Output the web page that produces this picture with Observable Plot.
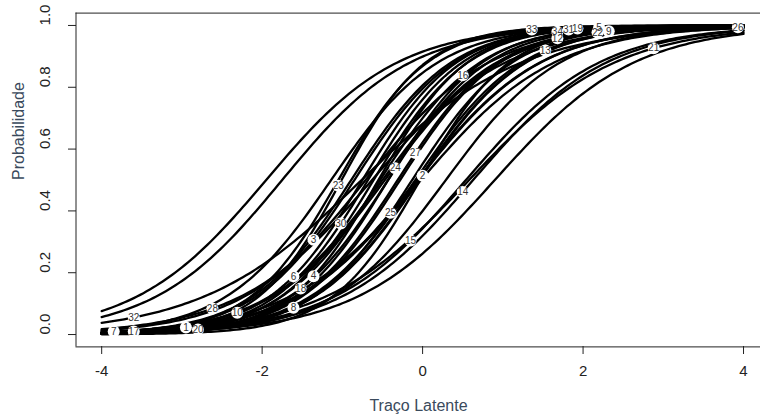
<!DOCTYPE html>
<html>
<head>
<meta charset="utf-8">
<script src="https://cdn.jsdelivr.net/npm/d3@7"></script>
<script src="https://cdn.jsdelivr.net/npm/@observablehq/plot@0.6"></script>
<style>
  body { margin: 0; background: #fff; }
</style>
</head>
<body>
<div id="chart"></div>
<script>
// Item parameters (2PL logistic): discrimination a, difficulty b
const items          = [1, 2, 3, 4, 5, 6, 7, 8, 9, 10, 11, 12, 13, 14, 15, 16, 17, 18, 19, 20, 21, 22, 23, 24, 25, 26, 27, 28, 29, 30, 31, 32, 33, 34];
const discrimination = [1.3, 1.8, 1.6, 1.8, 1.22, 1.7, 1.2, 1.5, 1.3, 1.4, 1.25, 1.6, 1.5, 1.2, 1.2, 1.6, 1.3, 1.6, 1.5, 1.5, 1.1, 1.4, 1.9, 1.7, 1.6, 1.4, 1.6, 1.2, 1.15, 1.7, 1.6, 1.0, 1.8, 1.7];
const difficulty     = [-0.07, -0.03, -0.85, -0.55, -1.95, -0.75, -0.02, -0.04, -0.71, -0.47, -1.75, -0.28, -0.09, 0.63, 0.54, -0.53, -0.06, -0.43, -1.14, -0.05, 0.58, -0.5, -1.01, -0.43, -0.13, 0.29, -0.31, -0.63, 0.9, -0.68, -0.89, -0.76, -1.05, -0.61];
// Where each item's number sits along its curve (latent trait); null = not visible
const labelTheta     = [-2.95, 0.0, -1.36, -1.36, 2.2, -1.61, -3.85, -1.61, 2.32, -2.31, null, 1.68, 1.53, 0.5, -0.15, 0.5, -3.6, -1.52, 1.93, -2.8, 2.88, 2.18, -1.05, -0.34, -0.4, 3.93, -0.09, -2.62, null, -1.02, 1.82, -3.6, 1.36, 1.68];

const xTicks = [-4, -2, 0, 2, 4];
const yTicks = [0, 0.2, 0.4, 0.6, 0.8, 1.0];
const yTickLabels = ["0.0", "0.2", "0.4", "0.6", "0.8", "1.0"];
const xTitle = "Traço Latente";
const yTitle = "Probabilidade";

const prob = (a, b, t) => 1 / (1 + Math.exp(-a * (t - b)));
const thetaGrid = d3.range(-4, 4.0001, 0.04);

const curves = items.flatMap((item, i) =>
  thetaGrid.map(t => ({item, theta: t, p: prob(discrimination[i], difficulty[i], t)})));
const labels = items
  .map((item, i) => ({item, theta: labelTheta[i], p: labelTheta[i] == null ? null : prob(discrimination[i], difficulty[i], labelTheta[i])}))
  .filter(d => d.theta != null);

const ticksY = yTicks.map((v, i) => ({v, s: yTickLabels[i]}));

const chart = Plot.plot({
  width: 760,
  height: 419,
  marginLeft: 76,
  marginRight: 0,
  marginTop: 13,
  marginBottom: 73,
  x: {domain: [-4.32, 4.32], range: [75.5, 768.7]},
  y: {domain: [-0.04, 1.04], range: [346.4, 12.6]},
  style: {fontFamily: "'Liberation Sans', Arial, sans-serif", background: "white", color: "#222"},
  marks: [
    Plot.line(curves, {x: "theta", y: "p", z: "item", stroke: "black", strokeWidth: 2.3}),
    Plot.dot(labels, {x: "theta", y: "p", r: 6, fill: "white"}),
    Plot.text(labels, {x: "theta", y: "p", text: d => String(d.item), fontSize: 10, fill: "#333"}),
    Plot.ruleY([-0.04, 1.04], {x1: -4.32, x2: 4.32, stroke: "#222", strokeWidth: 1}),
    Plot.ruleX([-4.32], {y1: -0.04, y2: 1.04, stroke: "#222", strokeWidth: 1}),
    Plot.axisX({ticks: xTicks, tickSize: 8, tickFormat: () => "", label: null, stroke: "#222"}),
    Plot.axisY({ticks: yTicks, tickSize: 8, tickFormat: () => "", label: null, stroke: "#222"}),
    Plot.text(xTicks, {x: d => d, frameAnchor: "bottom", dy: 29, text: d => String(d), fontSize: 15, fill: "#222"}),
    Plot.text(ticksY, {y: "v", frameAnchor: "left", dx: -31, rotate: -90, text: "s", fontSize: 15, fill: "#222"}),
    Plot.text([xTitle], {frameAnchor: "bottom", dy: 64, text: d => d, fontSize: 16, fill: "#3a4a5c"}),
    Plot.text([yTitle], {frameAnchor: "left", dx: -58, rotate: -90, text: d => d, fontSize: 16, fill: "#3a4a5c"})
  ]
});
document.getElementById("chart").appendChild(chart);
</script>
</body>
</html>
